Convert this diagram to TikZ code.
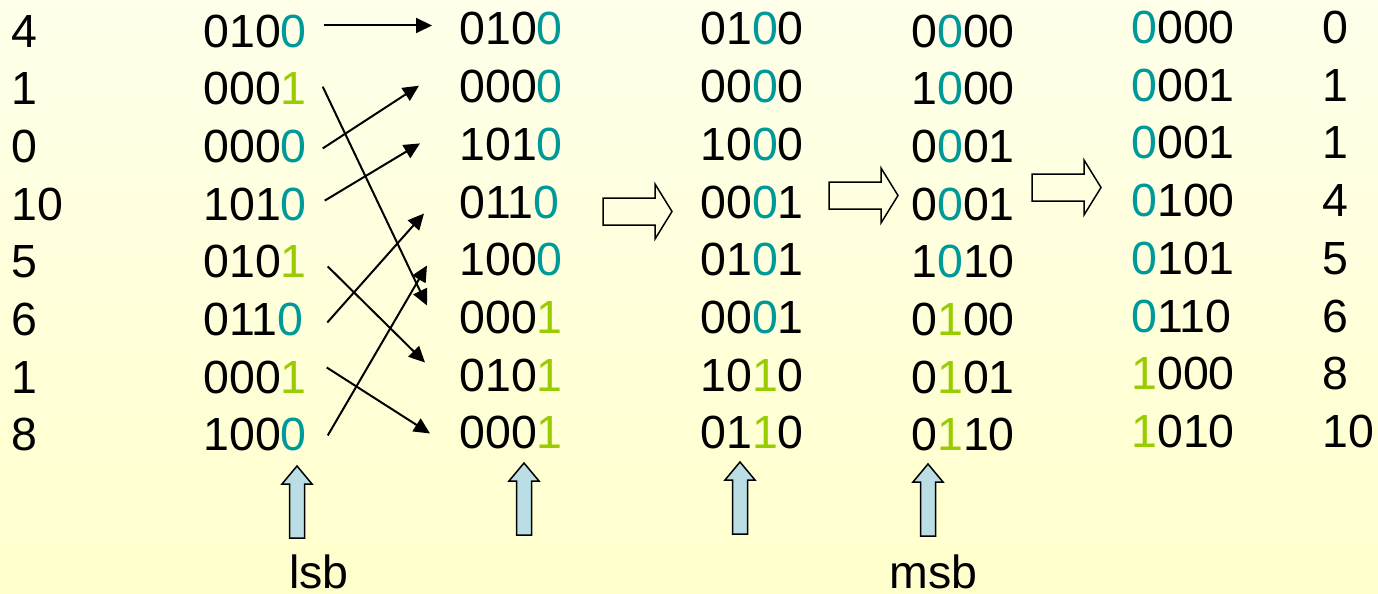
\documentclass[tikz,border=0pt]{standalone}
\usepackage{fontspec}
\setmainfont{Liberation Sans}
\usetikzlibrary{arrows.meta}
\definecolor{bitteal}{RGB}{0,153,153}
\definecolor{bitgreen}{RGB}{153,204,0}
\definecolor{pointerblue}{RGB}{186,222,228}
\definecolor{bgtop}{RGB}{255,255,234}
\definecolor{bgbot}{RGB}{255,255,204}
% highlighted bits of the current pass
\newcommand\bz{\textcolor{bitteal}{0}}
\newcommand\bo{\textcolor{bitgreen}{1}}
\begin{document}
\begin{tikzpicture}[x=0.5pt,y=-0.5pt,
  num/.style={anchor=base west, inner sep=0pt, font=\fontsize{23.25pt}{28pt}\selectfont},
  link/.style={line width=1pt, -{Triangle[length=8pt,width=7.5pt]}},
  blockarrow/.pic={\draw[line width=0.75pt, line join=miter]
      (0,-13.5) -- (52,-13.5) -- (52,-27.5) -- (69,0) -- (52,27.5) -- (52,13.5) -- (0,13.5) -- cycle;},
  uparrow/.pic={\draw[line width=0.75pt, fill=pointerblue, line join=miter]
      (0,0) -- (15,18) -- (7.5,18) -- (7.5,72) -- (-7.5,72) -- (-7.5,18) -- (-15,18) -- cycle;}]
\shade[top color=bgtop, bottom color=bgbot] (0,0) rectangle (1378,594);
\useasboundingbox (0,0) rectangle (1378,594);

% input keys
\foreach \t [count=\i from 0] in {4,1,0,10,5,6,1,8}
  \node[num] (a\i) at (11,47+57.7*\i) {\t};
% binary keys, bit 0 highlighted
\foreach \t [count=\i from 0] in {010\bz,000\bo,000\bz,101\bz,010\bo,011\bz,000\bo,100\bz}
  \node[num] (b\i) at (203,47+57.7*\i) {\t};
% after pass on bit 0
\foreach \t [count=\i from 0] in {010\bz,000\bz,101\bz,011\bz,100\bz,000\bo,010\bo,000\bo}
  \node[num] (c\i) at (459,45+57.7*\i) {\t};
% after pass on bit 1
\foreach \t [count=\i from 0] in {01\bz0,00\bz0,10\bz0,00\bz1,01\bz1,00\bz1,10\bo0,01\bo0}
  \node[num] (d\i) at (700,45+57.7*\i) {\t};
% after pass on bit 2
\foreach \t [count=\i from 0] in {0\bz00,1\bz00,0\bz01,0\bz01,1\bz10,0\bo00,0\bo01,0\bo10}
  \node[num] (e\i) at (911,47+57.7*\i) {\t};
% after pass on bit 3
\foreach \t [count=\i from 0] in {\bz000,\bz001,\bz001,\bz100,\bz101,\bz110,\bo000,\bo010}
  \node[num] (f\i) at (1131,43.5+57.7*\i) {\t};
% sorted keys
\foreach \t [count=\i from 0] in {0,1,1,4,5,6,8,10}
  \node[num] (g\i) at (1322,43.5+57.7*\i) {\t};

% moves of the first pass
\draw[link] ([shift={(16.5,-5.5)}]b0.east) -- ([shift={(-27,-3.5)}]c0.west);
\draw[link] ([shift={(15.5,2)}]b2.east) -- ([shift={(-40,-1)}]c1.west);
\draw[link] ([shift={(17.5,-3.5)}]b3.east) -- ([shift={(-39,-1)}]c2.west);
\draw[link] ([shift={(15.5,-2)}]b1.east) -- ([shift={(-32,-12)}]c5.west);
\draw[link] ([shift={(23.5,3)}]b5.east) -- ([shift={(-35,11.4)}]c3.west);
\draw[link] ([shift={(20.5,0.6)}]b7.east) -- ([shift={(-32,5.7)}]c4.west);
\draw[link] ([shift={(20.5,4.7)}]b4.east) -- ([shift={(-34,-12.7)}]c6.west);
\draw[link] ([shift={(19.5,-9.7)}]b6.east) -- ([shift={(-29,0.6)}]c7.west);

% later passes
\pic at (603,211.5) {blockarrow};
\pic at (829,195.5) {blockarrow};
\pic at (1032,187.5) {blockarrow};

% bit pointers
\pic at (297,466) {uparrow};
\pic at (524,463) {uparrow};
\pic at (740,462) {uparrow};
\pic at (928,464) {uparrow};

\node[num] (lsb) at (289,588) {lsb};
\node[num] (msb) at (889,588) {msb};
\end{tikzpicture}
\end{document}
